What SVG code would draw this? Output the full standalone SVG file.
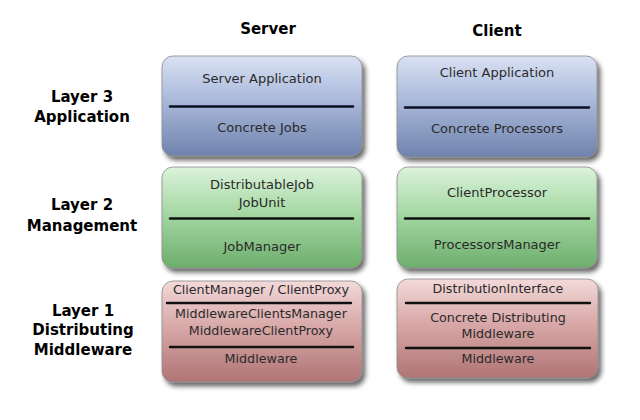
<svg xmlns="http://www.w3.org/2000/svg" width="640" height="420" viewBox="0 0 640 420">
<style>
.box{stroke:#8a8a8a;stroke-width:0.8;filter:url(#sh)}
.t{font-family:"DejaVu Sans",sans-serif;font-size:13px;fill:#2a2a2a;text-anchor:middle}
.r{font-size:12.7px}
.h{font-family:"DejaVu Sans",sans-serif;font-size:15px;font-weight:bold;fill:#000;text-anchor:middle}
.sep{stroke:#111;stroke-width:2.4;stroke-linecap:round}
.sepb{stroke:#0a0f22;stroke-width:2.4;stroke-linecap:round}
</style>
<defs>
<linearGradient id="gb" x1="0" y1="0" x2="0" y2="1"><stop offset="0" stop-color="#d9e1f3"/><stop offset="0.45" stop-color="#a9b8da"/><stop offset="1" stop-color="#7083ad"/></linearGradient>
<linearGradient id="gg" x1="0" y1="0" x2="0" y2="1"><stop offset="0" stop-color="#dbf3db"/><stop offset="0.45" stop-color="#a6d8a4"/><stop offset="1" stop-color="#6dae6d"/></linearGradient>
<linearGradient id="gr" x1="0" y1="0" x2="0" y2="1"><stop offset="0" stop-color="#f3d9d9"/><stop offset="0.45" stop-color="#d8a8a8"/><stop offset="1" stop-color="#b07474"/></linearGradient>
<filter id="sh" x="-10%" y="-10%" width="125%" height="130%"><feGaussianBlur in="SourceAlpha" stdDeviation="2.5"/><feOffset dx="3" dy="4" result="b"/><feComponentTransfer><feFuncA type="linear" slope="0.6"/></feComponentTransfer><feMerge><feMergeNode/><feMergeNode in="SourceGraphic"/></feMerge></filter>
</defs>
<rect width="640" height="420" fill="#fff"/>
<g id="headers">
<text class="h" x="268" y="34">Server</text>
<text class="h" x="497" y="36">Client</text>
</g>
<g id="layer-labels">
<text class="h" x="82" y="102">Layer 3</text>
<text class="h" x="82" y="122">Application</text>
<text class="h" x="82" y="210">Layer 2</text>
<text class="h" x="82" y="231">Management</text>
<text class="h" x="83" y="316">Layer 1</text>
<text class="h" x="83" y="335">Distributing</text>
<text class="h" x="83" y="355">Middleware</text>
</g>
<g id="server-app">
<rect class="box" x="162" y="56" width="200" height="100" rx="11" fill="url(#gb)"/>
<line class="sepb" x1="170" y1="106.5" x2="353" y2="106.5"/>
<text class="t" x="262" y="83">Server Application</text>
<text class="t" x="262" y="132">Concrete Jobs</text>
</g>
<g id="client-app">
<rect class="box" x="397" y="56" width="200" height="101" rx="11" fill="url(#gb)"/>
<line class="sepb" x1="405" y1="107.5" x2="589" y2="107.5"/>
<text class="t" x="497" y="77">Client Application</text>
<text class="t" x="497" y="133">Concrete Processors</text>
</g>
<g id="server-mgmt">
<rect class="box" x="162" y="167" width="200" height="101" rx="11" fill="url(#gg)"/>
<line class="sep" x1="170" y1="218.5" x2="353" y2="218.5"/>
<text class="t" x="262" y="189">DistributableJob</text>
<text class="t" x="262" y="207">JobUnit</text>
<text class="t" x="262" y="251">JobManager</text>
</g>
<g id="client-mgmt">
<rect class="box" x="397" y="167" width="200" height="101" rx="11" fill="url(#gg)"/>
<line class="sep" x1="405" y1="218.5" x2="589" y2="218.5"/>
<text class="t" x="497" y="197">ClientProcessor</text>
<text class="t" x="497" y="249">ProcessorsManager</text>
</g>
<g id="server-mw">
<rect class="box" x="162" y="281" width="200" height="101" rx="11" fill="url(#gr)"/>
<line class="sep" x1="167" y1="303" x2="351" y2="303"/>
<line class="sep" x1="170" y1="347" x2="353" y2="347"/>
<text class="t r" x="261" y="294">ClientManager / ClientProxy</text>
<text class="t r" x="261" y="318">MiddlewareClientsManager</text>
<text class="t r" x="261" y="335">MiddlewareClientProxy</text>
<text class="t r" x="261" y="363">Middleware</text>
</g>
<g id="client-mw">
<rect class="box" x="397" y="279" width="201" height="99" rx="11" fill="url(#gr)"/>
<line class="sep" x1="406" y1="303" x2="590" y2="303"/>
<line class="sep" x1="406" y1="348" x2="590" y2="348"/>
<text class="t r" x="498" y="293">DistributionInterface</text>
<text class="t r" x="498" y="322">Concrete Distributing</text>
<text class="t r" x="498" y="338">Middleware</text>
<text class="t r" x="498" y="363">Middleware</text>
</g>
<g id="connectors"/>
</svg>
